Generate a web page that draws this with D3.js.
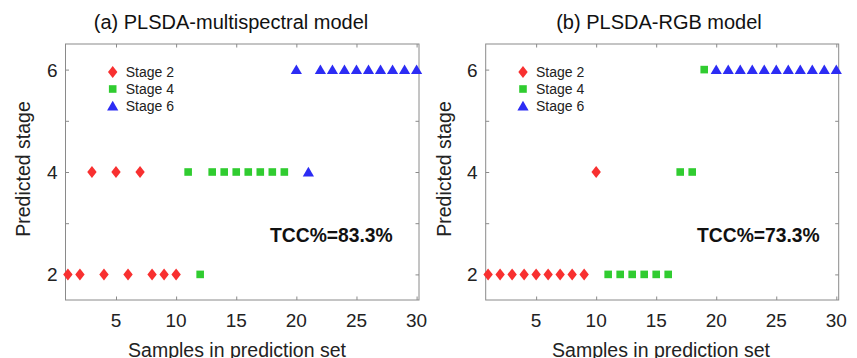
<!DOCTYPE html>
<html>
<head>
<meta charset="utf-8">
<script src="https://cdn.jsdelivr.net/npm/d3@7"></script>
<style>
  body { margin: 0; background: #fff; }
  svg { display: block; font-family: "Liberation Sans", Arial, sans-serif; }
</style>
</head>
<body>
<svg class="chart"></svg>
<script>
var width = 857,
    height = 358;

// sample number 1..30 in the prediction set
var samples = d3.range(1, 31);
// true stage of each sample
var trueStage = [2,2,2,2,2,2,2,2,2,2, 4,4,4,4,4,4,4,4,4, 6,6,6,6,6,6,6,6,6,6,6];
// predicted stage, multispectral model
var predMulti = [2,2,4,2,4,2,4,2,2,2, 4,2,4,4,4,4,4,4,4, 6,4,6,6,6,6,6,6,6,6,6];
// predicted stage, RGB model
var predRGB = [2,2,2,2,2,2,2,2,2,4, 2,2,2,2,2,2,4,4,6, 6,6,6,6,6,6,6,6,6,6,6];

var stages = [2, 4, 6];
var stageNames = ["Stage 2", "Stage 4", "Stage 6"];
var xTicks = [5, 10, 15, 20, 25, 30];
var yTicks = [2, 3, 4, 5, 6];
var yLabels = [2, 4, 6];

var titles = ["(a) PLSDA-multispectral model", "(b) PLSDA-RGB model"];
var tccText = ["TCC%=83.3%", "TCC%=73.3%"];

var color = d3.scaleOrdinal().domain(stages).range(["#f83030", "#30cc30", "#2c2cf4"]);

// marker shapes (diamond is taller than wide like matlab's)
var shape = function(stage) {
  if (stage === 2) return "M0,-6L4.7,0L0,6L-4.7,0Z";
  if (stage === 4) return "M-3.8,-3.8H3.8V3.8H-3.8Z";
  return "M0,-5.2L5.6,4.4H-5.6Z";
};

var svg = d3.select('.chart')
            .attr('width', width)
            .attr('height', height);

var panels = [
  {left: 65.5, right: 419, pred: predMulti, title: titles[0], tcc: tccText[0], titleX: 231, labelX: 237, yLab: 30, legX: 112.7, tccX: 270},
  {left: 485.7, right: 838.7, pred: predRGB, title: titles[1], tcc: tccText[1], titleX: 659, labelX: 661, yLab: 451, legX: 523, tccX: 697}
];

var plotTop = 44, plotBottom = 300;

panels.forEach(function(p) {
  var x = d3.scaleLinear().domain([0.8, 30.2]).range([p.left, p.right]);
  var y = d3.scaleLinear().domain([1.5, 6.5]).range([plotBottom, plotTop]);

  var g = svg.append('g');

  // box
  g.append('rect')
   .attr('x', p.left).attr('y', plotTop)
   .attr('width', p.right - p.left).attr('height', plotBottom - plotTop)
   .attr('fill', 'none').attr('stroke', '#8a8a8a').attr('stroke-width', 1);

  // inward ticks on all four sides
  var tl = 3.5;
  g.append('g').call(d3.axisBottom(x).tickValues(xTicks).tickSize(tl).tickFormat(''))
   .attr('transform', 'translate(0,' + (plotBottom - tl) + ')');
  g.append('g').call(d3.axisTop(x).tickValues(xTicks).tickSize(tl).tickFormat(''))
   .attr('transform', 'translate(0,' + (plotTop + tl) + ')');
  g.append('g').call(d3.axisLeft(y).tickValues(yTicks).tickSize(tl).tickFormat(''))
   .attr('transform', 'translate(' + (p.left + tl) + ',0)');
  g.append('g').call(d3.axisRight(y).tickValues(yTicks).tickSize(tl).tickFormat(''))
   .attr('transform', 'translate(' + (p.right - tl) + ',0)');
  g.selectAll('.domain').remove();
  g.selectAll('.tick line').attr('stroke', '#8a8a8a');

  // tick labels
  g.selectAll('.xlab')
   .data(xTicks).join('text')
   .attr('class', 'xlab')
   .attr('x', d => x(d)).attr('y', 326.5)
   .attr('text-anchor', 'middle')
   .attr('font-size', 19).attr('fill', '#222')
   .text(d => d);

  g.selectAll('.ylab')
   .data(yLabels).join('text')
   .attr('class', 'ylab')
   .attr('x', p.left - 8).attr('y', d => y(d) + 7)
   .attr('text-anchor', 'end')
   .attr('font-size', 19).attr('fill', '#222')
   .text(d => d);

  // axis titles
  g.append('text')
   .attr('x', p.labelX).attr('y', 357)
   .attr('text-anchor', 'middle').attr('font-size', 19.5).attr('fill', '#222')
   .text('Samples in prediction set');

  g.append('text')
   .attr('transform', 'translate(' + p.yLab + ',169) rotate(-90)')
   .attr('text-anchor', 'middle').attr('font-size', 19.5).attr('fill', '#222')
   .text('Predicted stage');

  g.append('text')
   .attr('x', p.titleX).attr('y', 29)
   .attr('text-anchor', 'middle').attr('font-size', 20).attr('fill', '#111')
   .text(p.title);

  // points
  g.selectAll('.pt')
   .data(samples.map((s, i) => ({s: s, t: trueStage[i], v: p.pred[i]})))
   .join('path')
   .attr('class', 'pt')
   .attr('transform', d => 'translate(' + x(d.s) + ',' + y(d.v) + ')')
   .attr('d', d => shape(d.t))
   .attr('fill', d => color(d.t));

  // legend
  var leg = g.selectAll('.leg')
             .data(stages).join('g')
             .attr('class', 'leg')
             .attr('transform', (d, i) => 'translate(' + p.legX + ',' + (72 + i * 17) + ')');
  leg.append('path').attr('d', d => shape(d)).attr('fill', d => color(d));
  leg.append('text')
     .attr('x', 13).attr('y', 5)
     .attr('font-size', 14).attr('fill', '#222')
     .text((d, i) => stageNames[i]);

  // accuracy note
  g.append('text')
   .attr('x', p.tccX).attr('y', 242)
   .attr('font-size', 19.3).attr('font-weight', 'bold').attr('fill', '#111')
   .text(p.tcc);
});
</script>
</body>
</html>
